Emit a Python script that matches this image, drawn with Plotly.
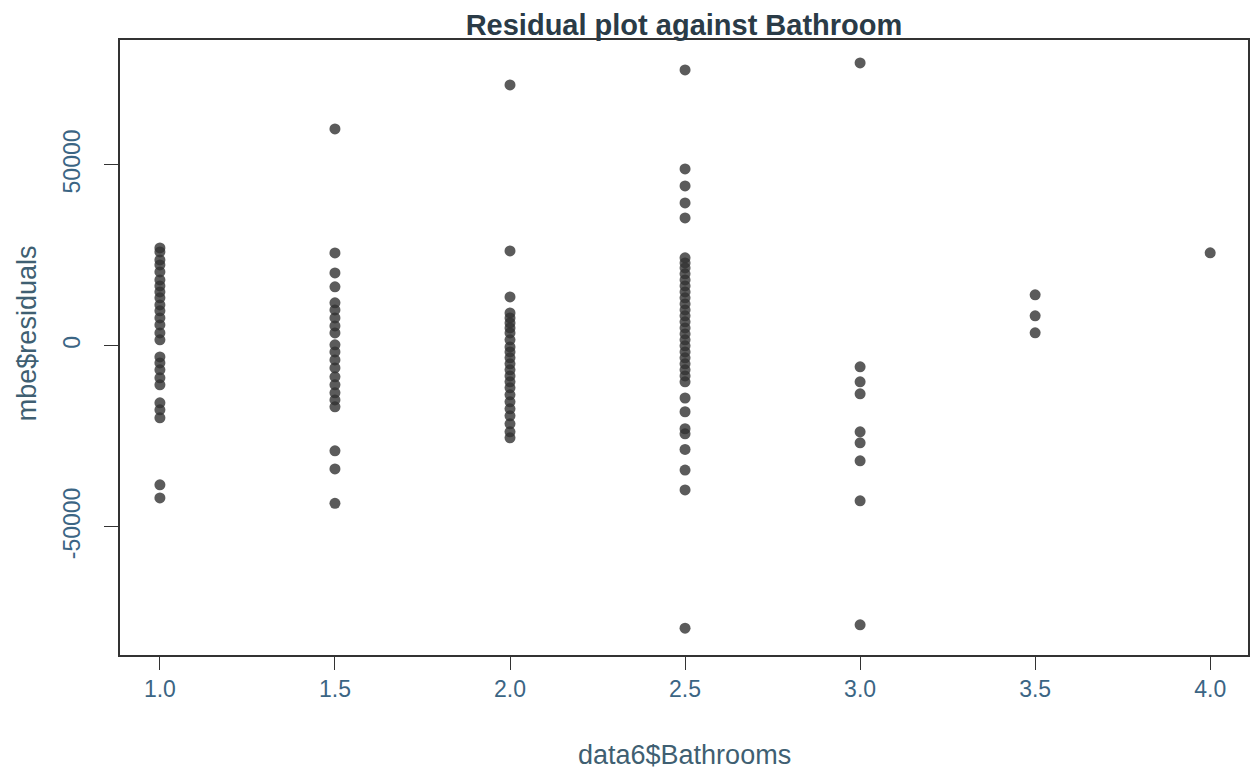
import plotly.graph_objects as go

# Residuals grouped by number of bathrooms
bath_levels = [1.0, 1.5, 2.0, 2.5, 3.0, 3.5, 4.0]

res_1_0 = [27070, 25960, 23750, 22370, 20440, 18230, 16570, 14910, 13260, 11320,
           9670, 7730, 5800, 3590, 1660, -3040, -4700, -6630, -8840, -10770,
           -15740, -17680, -19890, -38390, -42000]
res_1_5 = [59940, 25690, 20160, 16300, 11880, 9940, 7730, 5520, 3590, 280,
           -1660, -3870, -6080, -8560, -10770, -12980, -14920, -16850,
           -29000, -34000, -43500]
res_2_0 = [72090, 26240, 13530, 9110, 7730, 6350, 4970, 3590, 1660, -300,
           -1660, -3310, -4970, -6630, -8290, -9940, -11600, -13530, -15470,
           -17400, -19330, -21540, -23750, -25410]
res_2_5 = [76230, 48890, 44190, 39500, 35350, 24310, 22920, 21540, 19890, 18230,
           16570, 14910, 13260, 11600, 9940, 8290, 6630, 4970, 3310, 1660, 0,
           -1660, -3310, -4970, -6630, -8290, -9940, -14400, -18200, -22900,
           -24300, -28600, -34300, -39800, -78000]
res_3_0 = [78160, -5800, -9940, -13260, -23750, -26790, -31760, -42810, -77060]
res_3_5 = [14100, 8300, 3600]
res_4_0 = [25700]

groups = [res_1_0, res_1_5, res_2_0, res_2_5, res_3_0, res_3_5, res_4_0]

x_vals = []
y_vals = []
for lvl, vals in zip(bath_levels, groups):
    x_vals += [lvl] * len(vals)
    y_vals += vals

x_ticks = [1.0, 1.5, 2.0, 2.5, 3.0, 3.5, 4.0]
x_tick_text = ["1.0", "1.5", "2.0", "2.5", "3.0", "3.5", "4.0"]
y_ticks = [-50000, 0, 50000]
y_tick_text = ["-50000", "0", "50000"]

# The page body adds an 8px offset; figure size/margins compensate for it.
W, H = 1251, 765

fig = go.Figure()
fig.add_trace(go.Scatter(
    x=x_vals, y=y_vals, mode="markers",
    marker=dict(size=11, color="rgba(50,50,50,0.8)", line=dict(width=0)),
    showlegend=False, hoverinfo="x+y",
))

axis_common = dict(
    showline=True, linecolor="#333333", linewidth=1.5, mirror=True,
    ticks="outside", tickcolor="#333333", tickwidth=1.2,
    showgrid=False, zeroline=False,
    tickfont=dict(family="Liberation Sans, Arial, sans-serif", size=23, color="#3b6584"),
)

fig.update_layout(
    width=W, height=H,
    margin=dict(l=112, r=9, t=32, b=118),
    paper_bgcolor="white", plot_bgcolor="white",
    title=dict(
        text="<b>Residual plot against Bathroom</b>",
        x=0.5, xref="paper", xanchor="center",
        y=1 - 17 / H, yref="container", yanchor="middle",
        font=dict(family="Liberation Sans, Arial, sans-serif", size=29, color="#2a3b47"),
    ),
    xaxis=dict(range=[0.886, 4.108], tickvals=x_ticks, ticktext=x_tick_text,
               ticklen=13, **axis_common),
    yaxis=dict(range=[-85400, 84500], tickvals=y_ticks, ticktext=y_tick_text,
               ticklen=14, tickangle=-90, ticklabelstandoff=15, **axis_common),
    annotations=[
        dict(text="data6$Bathrooms", xref="paper", yref="paper",
             x=0.5, y=(655 - 755) / 615, xanchor="center", yanchor="middle",
             showarrow=False,
             font=dict(family="Liberation Sans, Arial, sans-serif", size=27, color="#3f5f72")),
        dict(text="mbe$residuals", xref="paper", yref="paper",
             x=(27 - 120) / 1130, y=(655 - 333) / 615, xanchor="center", yanchor="middle",
             textangle=-90, showarrow=False,
             font=dict(family="Liberation Sans, Arial, sans-serif", size=27, color="#3f5f72")),
    ],
)

fig.write_html("out.html")
